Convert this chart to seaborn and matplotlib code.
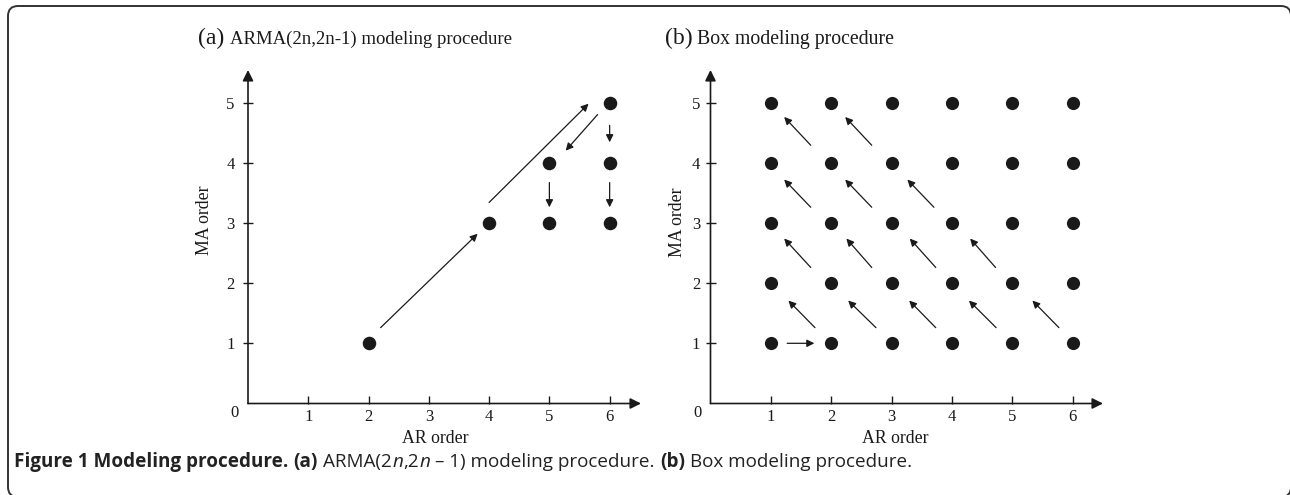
import matplotlib
matplotlib.use("Agg")
import matplotlib.pyplot as plt
import seaborn as sns
import pandas as pd
from matplotlib.patches import FancyBboxPatch

# ---------------- data ----------------
ar_ticks = [1, 2, 3, 4, 5, 6]
ma_ticks = [1, 2, 3, 4, 5]

# (a) ARMA(2n,2n-1) procedure: visited models
arma_ar = [2, 4, 5, 6, 5, 6, 6]
arma_ma = [1, 3, 3, 3, 4, 4, 5]
# arrows (tail -> head) in (AR, MA) units
arma_tail_ar = [2.20, 4.00, 5.80, 6.00, 6.00, 5.00]
arma_tail_ma = [1.26, 3.34, 4.80, 4.62, 3.67, 3.67]
arma_head_ar = [3.81, 5.65, 5.27, 6.00, 6.00, 5.00]
arma_head_ma = [2.82, 4.98, 4.20, 4.34, 3.26, 3.26]

# (b) Box procedure: full grid of models
box_ar = [a for m in ma_ticks for a in ar_ticks]
box_ma = [m for m in ma_ticks for a in ar_ticks]
box_tail_ar = [1.27, 1.73, 2.74, 3.73, 4.73, 5.77, 1.66, 2.67, 3.73, 4.72, 1.66, 2.67, 3.70, 1.66, 2.67]
box_tail_ma = [1.00, 1.26, 1.26, 1.26, 1.26, 1.26, 2.26, 2.26, 2.26, 2.26, 3.26, 3.26, 3.26, 4.29, 4.29]
box_head_ar = [1.72, 1.29, 2.28, 3.29, 4.28, 5.33, 1.22, 2.25, 3.30, 4.30, 1.22, 2.23, 3.26, 1.22, 2.23]
box_head_ma = [1.00, 1.71, 1.71, 1.71, 1.71, 1.71, 2.74, 2.74, 2.74, 2.74, 3.72, 3.72, 3.72, 4.76, 4.76]

title_a = "ARMA(2n,2n-1) modeling procedure"
title_b = "Box modeling procedure"
# caption runs: (text, weight, style)
caption_runs = [
    ("Figure 1 Modeling procedure.", "bold", "normal"),
    (" (a)", "bold", "normal"),
    (" ARMA(2", "normal", "normal"),
    ("n", "normal", "italic"),
    (",2", "normal", "normal"),
    ("n", "normal", "italic"),
    (" \u2013 1) modeling procedure.", "normal", "normal"),
    (" (b)", "bold", "normal"),
    (" Box modeling procedure.", "normal", "normal"),
]

# ---------------- style ----------------
sns.set_style("white")
plt.rcParams["font.family"] = ["Liberation Serif", "DejaVu Serif"]

W, H = 1290, 495
fig = plt.figure(figsize=(W / 100, H / 100), dpi=100)

def px_axes(x0, x1, y_top, y_bot):
    return fig.add_axes([x0 / W, (H - y_bot) / H, (x1 - x0) / W, (y_bot - y_top) / H])

ax_a = px_axes(248, 641, 70, 403.5)
ax_b = px_axes(710.5, 1103, 70, 403.5)

ink = "#1a1a1a"

# dots
df_a = pd.DataFrame({"AR": arma_ar, "MA": arma_ma})
df_b = pd.DataFrame({"AR": box_ar, "MA": box_ma})
sns.scatterplot(data=df_a, x="AR", y="MA", ax=ax_a, s=95, color=ink,
                edgecolor=ink, linewidth=0, legend=False, clip_on=False, zorder=3)
sns.scatterplot(data=df_b, x="AR", y="MA", ax=ax_b, s=90, color=ink,
                edgecolor=ink, linewidth=0, legend=False, clip_on=False, zorder=3)

def style_axis(ax, xmax, ypad):
    ax.set_xlim(0, xmax)
    ax.set_ylim(0, 5.54)
    for s in ax.spines.values():
        s.set_visible(False)
    ax.set_xticks(ar_ticks)
    ax.set_yticks(ma_ticks)
    ax.set_xticklabels([str(t) for t in ar_ticks])
    ax.set_yticklabels([str(t) for t in ma_ticks])
    ax.tick_params(axis="x", direction="in", length=5.8, width=1.0, color=ink,
                   pad=4.0, labelsize=12, labelcolor=ink, bottom=True)
    ax.tick_params(axis="y", direction="inout", length=7, width=1.0, color=ink,
                   pad=ypad, labelsize=12, labelcolor=ink, left=True)
    # axis lines with arrowheads
    ax.annotate("", xy=(1, 0), xytext=(0, 0), xycoords="axes fraction",
                arrowprops=dict(arrowstyle="-|>", lw=1.2, color=ink,
                                mutation_scale=16, shrinkA=0, shrinkB=0))
    ax.annotate("", xy=(0, 1), xytext=(0, 0), xycoords="axes fraction",
                arrowprops=dict(arrowstyle="-|>", lw=1.2, color=ink,
                                mutation_scale=16, shrinkA=0, shrinkB=0))
    ax.annotate("0", xy=(0, 0), xytext=(-9.5, -6.5), textcoords="offset points",
                ha="center", va="center", fontsize=12, color=ink)
    ax.set_xlabel("AR order", fontsize=12.8, color=ink)
    ax.set_ylabel("MA order", fontsize=12.8, color=ink)
    ax.patch.set_alpha(0)

style_axis(ax_a, 6.52, 6.0)
style_axis(ax_b, 6.5, 4.0)

def draw_arrows(ax, tx, ty, hx, hy):
    for x0, y0, x1, y1 in zip(tx, ty, hx, hy):
        ax.annotate("", xy=(x1, y1), xytext=(x0, y0), xycoords="data",
                    arrowprops=dict(arrowstyle="-|>", lw=0.9, color=ink,
                                    mutation_scale=11, shrinkA=0, shrinkB=0))

draw_arrows(ax_a, arma_tail_ar, arma_tail_ma, arma_head_ar, arma_head_ma)
draw_arrows(ax_b, box_tail_ar, box_tail_ma, box_head_ar, box_head_ma)

# axis-label placement (done last so nothing resets it)
ax_a.xaxis.set_label_coords((435 - 248) / 393, -(430 - 403.5) / 333.5)
ax_b.xaxis.set_label_coords((895 - 710.5) / 392.5, -(430 - 403.5) / 333.5)
ax_a.yaxis.set_label_coords(-(248 - 213) / 393, (403.5 - 220) / 333.5)
ax_b.yaxis.set_label_coords(-(710.5 - 686) / 392.5, (403.5 - 222) / 333.5)

# panel titles
fig.text(198 / W, (H - 44) / H, "(a)", fontsize=17, color=ink, va="baseline")
fig.text(230 / W, (H - 44) / H, title_a, fontsize=13.5, color=ink, va="baseline")
fig.text(665 / W, (H - 44) / H, "(b)", fontsize=17, color=ink, va="baseline")
fig.text(697 / W, (H - 44) / H, title_b, fontsize=14.2, color=ink, va="baseline")

# caption, drawn run by run
renderer = fig.canvas.get_renderer()
cap_size = 13.6
cap_kw = dict(fontsize=cap_size, color="#222222", va="baseline", family="Open Sans")

def run_width(s, weight, style):
    t = fig.text(0, 0, s, fontweight=weight, fontstyle=style, **cap_kw)
    w = t.get_window_extent(renderer=renderer).width
    t.remove()
    return w

space_w = run_width("a a", "normal", "normal") - run_width("aa", "normal", "normal")
x_px = 14.0
y_cap = (H - 467) / H
for s, weight, style in caption_runs:
    lead = len(s) - len(s.lstrip(" "))
    x_px += lead * space_w
    body = s.strip(" ")
    t = fig.text(x_px / W, y_cap, body, fontweight=weight, fontstyle=style, **cap_kw)
    x_px += t.get_window_extent(renderer=renderer).width + 0.3

# rounded frame (partly cut by the image edges)
frame = FancyBboxPatch((8 / 100, -2 / 100), (1291 - 8) / 100, (489 + 2) / 100,
                       boxstyle="round,pad=0,rounding_size=0.1",
                       transform=fig.dpi_scale_trans, facecolor="none",
                       edgecolor="#333333", lw=1.4, clip_on=False)
fig.patches.append(frame)

fig.savefig("out.png", dpi=100)
